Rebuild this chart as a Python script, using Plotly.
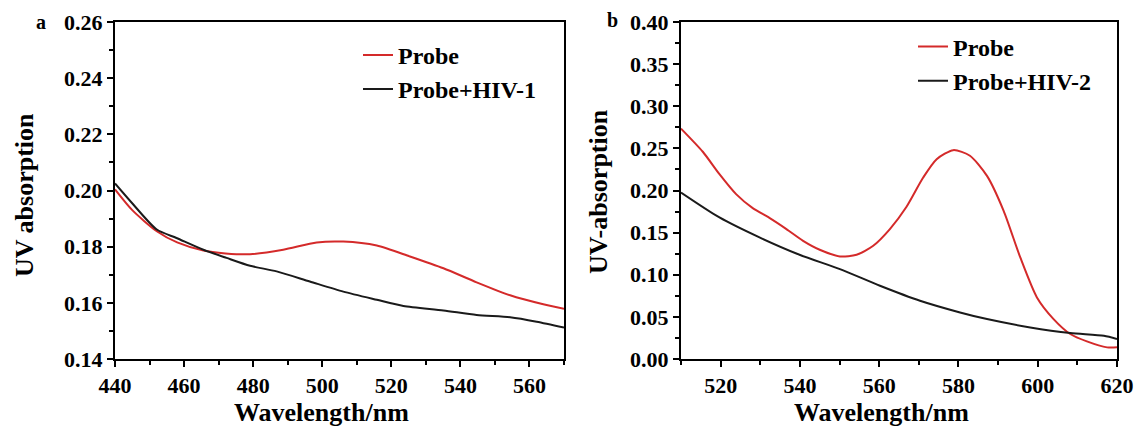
import plotly.graph_objects as go

# Panel a: probe vs probe + HIV-1
wl_a_probe = [440, 445, 452.1, 458, 465.6, 472, 479.1, 488.7, 498.4, 506.1, 515.8, 525.4, 535.1, 544.7, 554.4, 564.0, 570]
abs_a_probe = [0.2004, 0.1930, 0.1855, 0.1815, 0.1786, 0.1776, 0.1773, 0.1789, 0.1815, 0.1818, 0.1804, 0.1765, 0.1723, 0.1673, 0.1627, 0.1595, 0.1579]
wl_a_hiv = [440, 445.3, 452.1, 457.8, 465.6, 472.3, 479.1, 486.8, 496.4, 506.1, 515.8, 523.5, 535.1, 544.7, 554.4, 562.1, 570]
abs_a_hiv = [0.2025, 0.1950, 0.1861, 0.1831, 0.1789, 0.1760, 0.1732, 0.1712, 0.1676, 0.1640, 0.1611, 0.1589, 0.1573, 0.1557, 0.1549, 0.1533, 0.1512]

# Panel b: probe vs probe + HIV-2
wl_b_probe = [510, 515.5, 519.7, 523.9, 528.1, 532.3, 536.6, 540.8, 545.0, 550.1, 554.3, 558.5, 562.7, 566.9, 571.1, 574.5, 578.7, 582.9, 587.2, 591.4, 595.6, 599.8, 604.0, 608.2, 612.4, 617.5, 620]
abs_b_probe = [0.2735, 0.2460, 0.2194, 0.1957, 0.1791, 0.1675, 0.1542, 0.1403, 0.1297, 0.1217, 0.1237, 0.1344, 0.1542, 0.1807, 0.2154, 0.2372, 0.2479, 0.2412, 0.2174, 0.1759, 0.1205, 0.0731, 0.0474, 0.0297, 0.0209, 0.0138, 0.0138]
wl_b_hiv = [510, 519.7, 529.8, 539.9, 550.1, 560.2, 570.3, 580.4, 587.2, 598.1, 608.2, 616.7, 620]
abs_b_hiv = [0.1976, 0.1680, 0.1443, 0.1237, 0.1067, 0.0870, 0.0692, 0.0553, 0.0474, 0.0375, 0.0308, 0.0276, 0.0237]

xticks_a = [440, 460, 480, 500, 520, 540, 560]
yticks_a = [0.14, 0.16, 0.18, 0.20, 0.22, 0.24, 0.26]
xticks_b = [520, 540, 560, 580, 600, 620]
yticks_b = [0.00, 0.05, 0.10, 0.15, 0.20, 0.25, 0.30, 0.35, 0.40]

RED = "#d42a2a"
BLACK = "#1a1a1a"
FONT = "Liberation Serif"
W, H = 1135, 426

def line(color):
    return dict(color=color, width=2, shape="spline", smoothing=0.7)

fig = go.Figure()
fig.add_trace(go.Scatter(x=wl_a_probe, y=abs_a_probe, mode="lines", name="Probe",
                         line=line(RED), xaxis="x", yaxis="y", legend="legend"))
fig.add_trace(go.Scatter(x=wl_a_hiv, y=abs_a_hiv, mode="lines", name="Probe+HIV-1",
                         line=line(BLACK), xaxis="x", yaxis="y", legend="legend"))
fig.add_trace(go.Scatter(x=wl_b_probe, y=abs_b_probe, mode="lines", name="Probe",
                         line=line(RED), xaxis="x2", yaxis="y2", legend="legend2"))
fig.add_trace(go.Scatter(x=wl_b_hiv, y=abs_b_hiv, mode="lines", name="Probe+HIV-2",
                         line=line(BLACK), xaxis="x2", yaxis="y2", legend="legend2"))

tickfont = dict(family=FONT, size=22, color="black", weight="bold")
common = dict(showline=True, linecolor="black", linewidth=2, mirror=True,
              ticks="outside", ticklen=6, tickwidth=2, tickcolor="black",
              showgrid=False, zeroline=False, tickfont=tickfont, automargin=False)

def minor(dt, t0):
    return dict(dtick=dt, tick0=t0, ticks="outside", ticklen=4, tickwidth=2, tickcolor="black")

legfont = dict(family=FONT, size=24, color="black", weight="bold")

fig.update_layout(
    width=W, height=H,
    margin=dict(l=0, r=0, t=22, b=67),
    paper_bgcolor="white", plot_bgcolor="white",
    showlegend=True,
    xaxis=dict(domain=[115 / W, 564 / W], range=[440, 570], tickvals=xticks_a,
               minor=minor(10, 440), anchor="y", **common),
    yaxis=dict(domain=[0, 1], range=[0.14, 0.26], tickvals=yticks_a, tickformat=".2f",
               minor=minor(0.01, 0.14), anchor="x", **common),
    xaxis2=dict(domain=[681 / W, 1117 / W], range=[510, 620], tickvals=xticks_b,
                minor=minor(10, 510), anchor="y2", **common),
    yaxis2=dict(domain=[0, 1], range=[0, 0.40], tickvals=yticks_b, tickformat=".2f",
                minor=minor(0.025, 0), anchor="x2", **common),
    legend=dict(x=358 / W, y=0.968, xanchor="left", yanchor="top",
                bgcolor="rgba(0,0,0,0)", borderwidth=0, tracegroupgap=0, font=legfont),
    legend2=dict(x=913 / W, y=0.993, xanchor="left", yanchor="top",
                 bgcolor="rgba(0,0,0,0)", borderwidth=0, tracegroupgap=0, font=legfont),
)

titlefont = dict(family=FONT, size=26, color="black", weight="bold")
labelfont = dict(family=FONT, size=20, color="black", weight="bold")
annotations = [
    dict(text="Wavelength/nm", x=321, y=412, font=titlefont),
    dict(text="Wavelength/nm", x=881, y=412, font=titlefont),
    dict(text="UV absorption", x=24, y=195, font=titlefont, textangle=-90),
    dict(text="UV-absorption", x=598, y=192, font=titlefont, textangle=-90),
    dict(text="a", x=41, y=22, font=labelfont),
    dict(text="b", x=612, y=20, font=labelfont),
]
for a in annotations:
    fig.add_annotation(text=a["text"], xref="paper", yref="paper",
                       x=a["x"] / W, y=(359 - a["y"]) / 337,
                       xanchor="center", yanchor="middle", showarrow=False,
                       font=a["font"], textangle=a.get("textangle", 0))

fig.write_html("out.html")
